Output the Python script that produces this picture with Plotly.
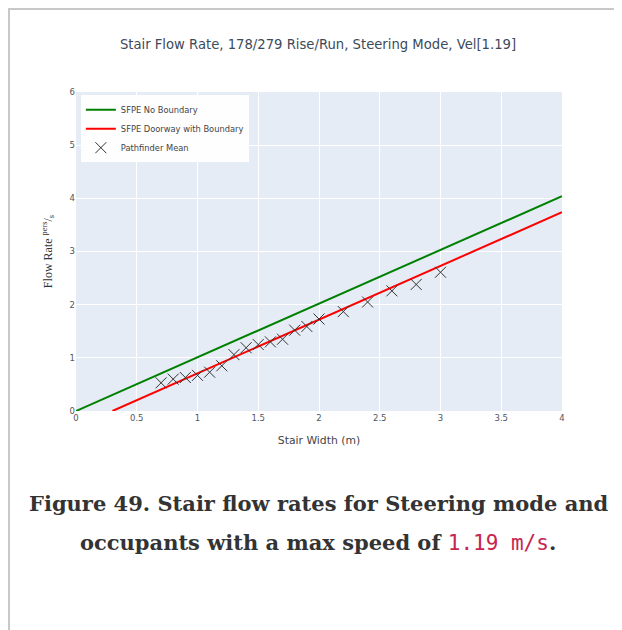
import plotly.graph_objects as go

# SFPE reference lines (end points)
sfpe_no_boundary_x = [0, 4]
sfpe_no_boundary_y = [0, 4.04]
sfpe_boundary_x = [0.3, 4]
sfpe_boundary_y = [0, 3.74]

# Pathfinder mean flow rates
stair_width = [0.7, 0.8, 0.9, 1.0, 1.1, 1.2, 1.3, 1.4, 1.5, 1.6, 1.7, 1.8, 1.9, 2.0,
               2.2, 2.4, 2.6, 2.8, 3.0]
pathfinder_mean = [0.53, 0.60, 0.63, 0.67, 0.73, 0.85, 1.06, 1.19, 1.25, 1.30, 1.35,
                   1.52, 1.59, 1.73, 1.87, 2.05, 2.26, 2.38, 2.61]

# page body has an 8px margin, so figure coords = page coords - 8
OFF = 8
W, H = 622 - OFF, 630 - OFF
L, R, T, B = 76 - OFF, 562 - OFF, 92 - OFF, 411 - OFF  # plot area in figure pixels


def px_x(p):
    # page pixel -> paper x
    return (p - OFF - L) / (R - L)


def px_y(p):
    # page pixel -> paper y
    return (B - (p - OFF)) / (B - T)


fig = go.Figure()
fig.add_trace(go.Scatter(x=sfpe_no_boundary_x, y=sfpe_no_boundary_y, mode="lines",
                         name="SFPE No Boundary", line=dict(color="green", width=2)))
fig.add_trace(go.Scatter(x=sfpe_boundary_x, y=sfpe_boundary_y, mode="lines",
                         name="SFPE Doorway with Boundary", line=dict(color="red", width=2)))
fig.add_trace(go.Scatter(x=stair_width, y=pathfinder_mean, mode="markers",
                         name="Pathfinder Mean",
                         marker=dict(symbol="x-thin-open", size=11, color="#333",
                                     line=dict(width=1, color="#333"))))

fig.update_layout(
    width=W, height=H,
    margin=dict(l=L, r=W - R, t=T, b=H - B),
    paper_bgcolor="white",
    plot_bgcolor="#E5ECF6",
    font=dict(family="DejaVu Sans, Verdana, sans-serif", size=8.5, color="#505660"),
    title=dict(text="Stair Flow Rate, 178/279 Rise/Run, Steering Mode, Vel[1.19]",
               x=px_x(318), xanchor="center", y=1 - (44 - OFF) / H, yanchor="middle",
               xref="paper", font=dict(size=13.2, color="#3d4a5a")),
    legend=dict(x=0.01, y=0.99, xanchor="left", yanchor="top",
                bgcolor="rgba(255,255,255,0.95)", font=dict(size=8.3, color="#444"),
                itemwidth=30, tracegroupgap=0),
    showlegend=True,
)
fig.update_xaxes(range=[0, 4], dtick=0.5, gridcolor="white", zeroline=False,
                 tickfont=dict(size=8.5),
                 title=dict(text="Stair Width (m)", font=dict(size=10.8, color="#444"),
                            standoff=14))
fig.update_yaxes(range=[0, 6], dtick=1, gridcolor="white", zeroline=False,
                 tickfont=dict(size=8.5),
                 title=dict(text="Flow Rate <sup>pers</sup>/<sub>s</sub>",
                            font=dict(family="Liberation Serif, serif", size=12, color="#333"),
                            standoff=14))

# page frame lines
fig.add_shape(type="line", xref="paper", yref="paper",
              x0=px_x(8), x1=px_x(622), y0=px_y(9), y1=px_y(9),
              line=dict(color="#c8c8c8", width=2))
fig.add_shape(type="line", xref="paper", yref="paper",
              x0=px_x(9), x1=px_x(9), y0=px_y(8), y1=px_y(630),
              line=dict(color="#c8c8c8", width=2))

# figure caption
fig.add_annotation(xref="paper", yref="paper", x=px_x(319), y=px_y(503),
                   xanchor="center", yanchor="middle", showarrow=False,
                   text="<b>Figure 49. Stair flow rates for Steering mode and</b>",
                   font=dict(family="DejaVu Serif, serif", size=21, color="#333"))
fig.add_annotation(xref="paper", yref="paper", x=px_x(318), y=px_y(542),
                   xanchor="center", yanchor="middle", showarrow=False,
                   text="<b>occupants with a max speed of </b>"
                        "<span style='font-family:DejaVu Sans Mono, monospace;color:#c7254e'>1.19 m/s</span>"
                        "<b>.</b>",
                   font=dict(family="DejaVu Serif, serif", size=21, color="#333"))

fig.write_html("out.html")
